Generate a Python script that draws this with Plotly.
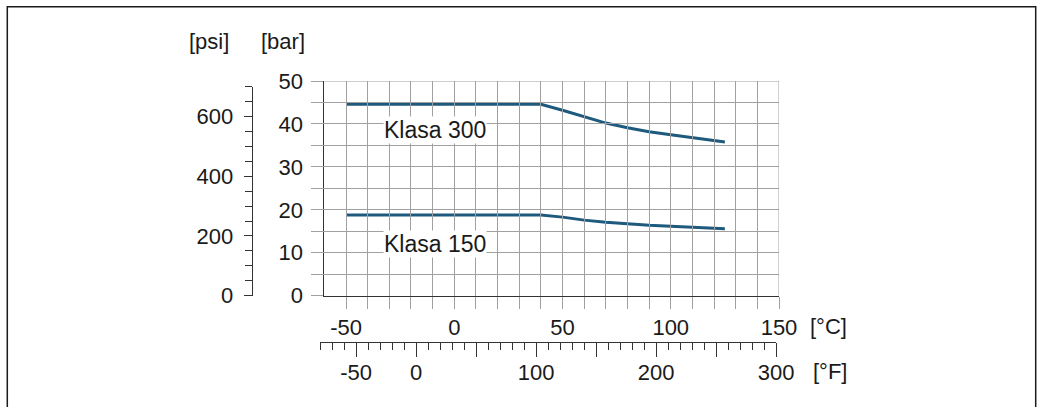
import plotly.graph_objects as go

# ---- data ----
temp_c = [-50, 40, 50, 60, 70, 80, 90, 100, 110, 120, 125]
class300_bar = [44.6, 44.6, 43.2, 41.7, 40.2, 39.1, 38.2, 37.5, 36.8, 36.1, 35.8]
class150_bar = [18.8, 18.8, 18.3, 17.6, 17.1, 16.7, 16.4, 16.2, 15.9, 15.7, 15.6]
series_names = ["Klasa 300", "Klasa 150"]

c_ticks = [-50, 0, 50, 100, 150]
c_labels = ["-50", "0", "50", "100", "150"]
bar_ticks = [0, 10, 20, 30, 40, 50]
psi_ticks = [0, 200, 400, 600]
f_ticks = [-50, 0, 50, 100, 150, 200, 250, 300]
f_labels = ["-50", "0", "", "100", "", "200", "", "300"]

W, H = 1042, 407
LINE = "#1d5a7e"
GRID = "#a0a0a0"
AXIS = "#333333"
TXT = "#1a1a1a"
FONT = "Liberation Sans, Arial, sans-serif"

# pixel geometry of the plot area
px_left, px_right = 324.4, 779.0
px_top, px_bottom = 81.0, 295.7
psi_top = 86.7
f_left, f_right = 320.1, 776.1
f_line_y = 342.3
psi_line_x = 251.7

fig = go.Figure()
for ys, name in zip([class300_bar, class150_bar], series_names):
    fig.add_trace(go.Scatter(x=temp_c, y=ys, mode="lines", name=name,
                             line=dict(color=LINE, width=3), showlegend=False,
                             hoverinfo="skip"))
# invisible traces that carry the psi and °F axes
fig.add_trace(go.Scatter(x=temp_c, y=[v * 14.5038 for v in class300_bar], xaxis="x", yaxis="y2",
                         mode="lines", line=dict(width=0), opacity=0, showlegend=False, hoverinfo="skip"))
fig.add_trace(go.Scatter(x=[t * 9 / 5 + 32 for t in temp_c], y=class300_bar, xaxis="x2", yaxis="y",
                         mode="lines", line=dict(width=0), opacity=0, showlegend=False, hoverinfo="skip"))

fig.update_layout(
    width=W, height=H, autosize=False,
    margin=dict(l=0, r=0, t=0, b=0, pad=0, autoexpand=False),
    paper_bgcolor="white", plot_bgcolor="rgba(0,0,0,0)",
    font=dict(family=FONT, size=22, color=TXT),
    xaxis=dict(domain=[px_left / W, px_right / W], range=[-60, 150], anchor="y",
               automargin=False,
               tickmode="array", tickvals=c_ticks, ticktext=c_labels, ticks="outside", ticklen=12,
               tickcolor=GRID, tickwidth=1, showgrid=True, gridcolor=GRID, gridwidth=1,
               showline=True, linecolor=AXIS, linewidth=1, zeroline=False,
               ticklabelstandoff=0,
               minor=dict(tickmode="array", tickvals=[v for v in range(-40, 150, 10) if v % 50],
                          ticks="outside", ticklen=12, tickcolor=GRID, showgrid=True,
                          gridcolor=GRID, gridwidth=1)),
    yaxis=dict(domain=[(H - px_bottom) / H, (H - px_top) / H], range=[0, 50], anchor="x",
               automargin=False,
               tickmode="array", tickvals=bar_ticks, ticks="outside", ticklen=12,
               tickcolor=GRID, showgrid=True, gridcolor=GRID, gridwidth=1,
               showline=True, linecolor=AXIS, linewidth=1, zeroline=False,
               ticklabelstandoff=4,
               minor=dict(tickmode="array", tickvals=[v for v in range(5, 50, 10)],
                          ticks="outside", ticklen=12, tickcolor=GRID, showgrid=True,
                          gridcolor=GRID, gridwidth=1)),
    yaxis2=dict(domain=[(H - px_bottom) / H, (H - psi_top) / H], range=[0, 700],
                anchor="free", position=psi_line_x / W, side="left", automargin=False,
                tickmode="array", tickvals=psi_ticks, ticks="outside", ticklen=8,
                tickcolor=AXIS, showgrid=False, showline=True, linecolor=AXIS, linewidth=1,
                zeroline=False, ticklabelstandoff=6,
                minor=dict(tickmode="array", tickvals=[v for v in range(50, 701, 50) if v % 200],
                           ticks="outside", ticklen=7, tickcolor=AXIS, showgrid=False)),
    xaxis2=dict(domain=[f_left / W, f_right / W], range=[-80, 300],
                anchor="free", position=(H - f_line_y) / H, side="bottom", automargin=False,
                tickmode="array", tickvals=f_ticks, ticktext=f_labels, ticks="outside",
                ticklen=14, tickcolor=AXIS, showgrid=False, showline=True, linecolor=AXIS,
                linewidth=1, zeroline=False, ticklabelstandoff=-4,
                minor=dict(tickmode="array", tickvals=[v for v in range(-80, 301, 10) if v % 50],
                           ticks="outside", ticklen=7, tickcolor=AXIS, showgrid=False)),
)

# right and top borders of the grid (grey, like the grid)
fig.add_shape(type="line", xref="x", yref="y", x0=150, x1=150, y0=0, y1=50,
              line=dict(color=GRID, width=1))
fig.add_shape(type="line", xref="x", yref="y", x0=-60, x1=150, y0=50, y1=50,
              line=dict(color=GRID, width=1))
# outer frame
fig.add_shape(type="rect", xref="paper", yref="paper",
              x0=7.3 / W, x1=1035.7 / W, y0=-0.2, y1=(H - 6.7) / H,
              line=dict(color="#1a1a1a", width=1.5), fillcolor="rgba(0,0,0,0)", layer="above")

def ann(text, x, y, xref="paper", yref="paper", size=22, bg=None):
    fig.add_annotation(text=text, x=x, y=y, xref=xref, yref=yref, showarrow=False,
                       font=dict(family=FONT, size=size, color=TXT),
                       xanchor="center", yanchor="middle",
                       bgcolor=bg if bg else "rgba(0,0,0,0)", borderpad=0)

ann("[psi]", 209 / W, (H - 42) / H)
ann("[bar]", 283 / W, (H - 42) / H)
ann("[°C]", 828 / W, (H - 326.7) / H)
ann("[°F]", 830 / W, (H - 371.7) / H)
ann(series_names[0], -8.7, 38.6, "x", "y", size=23, bg="white")
ann(series_names[1], -9.0, 12.0, "x", "y", size=23, bg="white")

fig.write_html("out.html")
